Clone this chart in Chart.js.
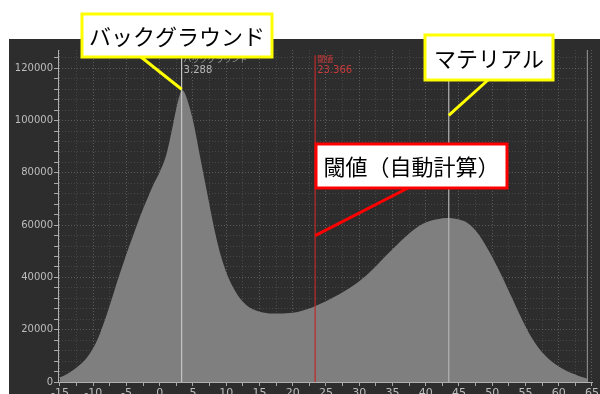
<!DOCTYPE html>
<html>
<head>
<meta charset="utf-8">
<script src="https://cdn.jsdelivr.net/npm/chart.js@4.4.1/dist/chart.umd.min.js"></script>
<style>
  html, body { margin: 0; padding: 0; background: #fff; }
  #wrap { width: 600px; height: 394px; }
</style>
</head>
<body>
<div id="wrap"><canvas id="histChart" width="600" height="394"></canvas></div>
<script>
// Histogram (bin centre -> count)
const binX = [-15, -14, -13, -12, -11, -10, -9, -8, -7, -6, -5, -4, -3, -2, -1, 0, 1, 2, 2.5, 3, 3.288, 3.6, 4, 5, 6, 7, 8, 9, 10,
  11, 12, 13, 14, 15, 16, 17, 18, 19, 20, 21, 22, 23, 24, 25, 26, 27, 28, 29, 30, 31, 32, 33, 34, 35, 36, 37, 38,
  39, 40, 41, 42, 43, 44, 45, 46, 47, 48, 49, 50, 51, 52, 53, 54, 55, 56, 57, 58, 59, 60, 61, 62, 63, 64, 64.3];
const binCount = [1800, 3000, 4600, 6600, 9200, 13000, 18500, 25500, 33500, 41500, 49000, 56000, 63000, 69300, 75300, 80300, 87000, 98500, 104800, 109800, 111600, 111200, 109000, 100000, 87000, 74000, 61000, 50000, 42000,
  36300, 32200, 29500, 27800, 26900, 26400, 26200, 26200, 26300, 26500, 27000, 27700, 28600, 29700, 30900, 32200, 33600, 35100, 36700, 38550, 40650, 43050, 45650, 48300, 50800, 53300, 55700, 57900,
  59700, 61000, 61900, 62400, 62700, 62600, 62200, 61300, 59300, 56300, 52300, 47800, 42800, 37500, 32000, 26500, 21200, 16600, 12900, 10000, 7700, 5900, 4500, 3300, 2300, 1500, 1200];

// markers
const bgPeak = 3.288;
const threshold = 23.366;
const materialPeak = 43.46;
const rangeMax = 64.3;

// axis ranges / ticks
const xMin = -15.3, xMax = 65.1;
const yMin = 0, yMax = 127000;
const xMinorStep = 2.5, xLabelStep = 5;
const yMinorStep = 4000, yLabelStep = 20000;

// callouts: text, anchor point on the data (x, y)
const calloutTexts = ['バックグラウンド', 'マテリアル', '閾値（自動計算）'];
const calloutTargetX = [bgPeak, materialPeak, threshold];
const calloutTargetY = [112000, 102000, 56000];

const vline = (x, top) => [{ x: x, y: yMin }, { x: x, y: top }];

const bgPlugin = {
  id: 'bgPanel',
  beforeDraw(chart) {
    const c = chart.ctx;
    c.save();
    c.fillStyle = '#ffffff';
    c.fillRect(0, 0, chart.width, chart.height);
    c.fillStyle = '#2d2d2d';
    c.fillRect(9, 39, chart.width - 9, chart.height - 39);
    c.restore();
  }
};

const calloutPlugin = {
  id: 'callouts',
  afterDraw(chart) {
    const c = chart.ctx;
    const xs = chart.scales.x, ys = chart.scales.y;
    c.save();

    // small marker labels
    c.textAlign = 'left';
    c.textBaseline = 'middle';
    c.fillStyle = '#9a9a9a';
    c.font = '8px "Noto Sans CJK JP"';
    c.fillText('バックグラウンド', xs.getPixelForValue(bgPeak) + 2, 59);
    c.fillStyle = '#b8b8b8';
    c.font = '10px "DejaVu Sans"';
    c.fillText(bgPeak.toFixed(3), xs.getPixelForValue(bgPeak) + 2, 70);
    c.fillStyle = '#c83a3a';
    c.font = '8px "Noto Sans CJK JP"';
    c.fillText('閾値', xs.getPixelForValue(threshold) + 2, 59);
    c.font = '10px "DejaVu Sans"';
    c.fillText(threshold.toFixed(3), xs.getPixelForValue(threshold) + 2, 70);

    // callout boxes
    const boxes = [
      { x: 82, y: 14, w: 190, h: 43, color: '#ffff00', from: [141, 57] },
      { x: 425, y: 35, w: 128, h: 45, color: '#ffff00', from: [488, 80] },
      { x: 316, y: 144, w: 191, h: 44, color: '#ff0000', from: [408, 188] }
    ];
    boxes.forEach((b, i) => {
      // leader line
      c.strokeStyle = b.color;
      c.lineWidth = 3;
      c.beginPath();
      c.moveTo(b.from[0], b.from[1]);
      c.lineTo(xs.getPixelForValue(calloutTargetX[i]), ys.getPixelForValue(calloutTargetY[i]));
      c.stroke();
      // box
      c.fillStyle = '#ffffff';
      c.fillRect(b.x, b.y, b.w, b.h);
      c.strokeRect(b.x, b.y, b.w, b.h);
      c.fillStyle = '#000000';
      c.font = '22px "Noto Sans CJK JP"';
      c.textAlign = 'center';
      c.textBaseline = 'middle';
      c.fillText(calloutTexts[i], b.x + b.w / 2, b.y + b.h / 2 + 1);
    });
    c.restore();
  }
};

const ctx = document.getElementById('histChart').getContext('2d');
new Chart(ctx, {
  type: 'line',
  data: {
    datasets: [
      {
        label: 'histogram',
        data: binX.map((x, i) => ({ x: x, y: binCount[i] })),
        backgroundColor: '#7f7f7f',
        borderWidth: 0,
        pointRadius: 0,
        fill: 'origin',
        cubicInterpolationMode: 'monotone',
        order: 5
      },
      {
        label: 'background',
        data: vline(bgPeak, yMax),
        borderColor: '#c4c4c4',
        borderWidth: 1.2,
        pointRadius: 0,
        order: 1
      },
      {
        label: 'threshold',
        data: vline(threshold, 125000),
        borderColor: '#c02828',
        borderWidth: 1.2,
        pointRadius: 0,
        order: 1
      },
      {
        label: 'material',
        data: vline(materialPeak, yMax),
        borderColor: '#b4b4b4',
        borderWidth: 1.2,
        pointRadius: 0,
        order: 1
      },
      {
        label: 'range',
        data: vline(rangeMax, yMax),
        borderColor: '#9a9a9a',
        borderWidth: 1,
        pointRadius: 0,
        order: 1
      }
    ]
  },
  options: {
    responsive: false,
    animation: false,
    layout: { padding: { top: 50, right: 6, bottom: 0, left: 0 } },
    plugins: {
      legend: { display: false },
      tooltip: { enabled: false }
    },
    scales: {
      x: {
        type: 'linear',
        min: xMin,
        max: xMax,
        afterBuildTicks: (scale) => {
          const t = [];
          for (let v = -15; v <= 65; v += xMinorStep) t.push({ value: v });
          scale.ticks = t;
        },
        afterFit: (scale) => { scale.height = 12; },
        grid: {
          color: (c) => (c.tick && c.tick.value % xLabelStep === 0) ? 'rgba(255,255,255,0.22)' : 'rgba(255,255,255,0.12)',
          tickColor: '#a8a8a8',
          tickLength: 4,
          drawTicks: true
        },
        border: { display: true, color: '#b0b0b0', width: 1, dash: [1, 2] },
        ticks: {
          autoSkip: false,
          maxRotation: 0,
          padding: 1,
          color: '#bdbdbd',
          font: { family: 'DejaVu Sans', size: 11 },
          callback: (v) => (v % xLabelStep === 0) ? String(v) : ''
        }
      },
      y: {
        type: 'linear',
        min: yMin,
        max: yMax,
        afterBuildTicks: (scale) => {
          const t = [];
          for (let v = 0; v <= 124000; v += yMinorStep) t.push({ value: v });
          scale.ticks = t;
        },
        afterFit: (scale) => { scale.width = 58; },
        grid: {
          color: (c) => (c.tick && c.tick.value % yLabelStep === 0) ? 'rgba(255,255,255,0.22)' : 'rgba(255,255,255,0.12)',
          tickColor: '#a8a8a8',
          tickLength: 4,
          drawTicks: true
        },
        border: { display: true, color: '#b0b0b0', width: 1, dash: [1, 2] },
        ticks: {
          autoSkip: false,
          padding: 1,
          color: '#bdbdbd',
          font: { family: 'DejaVu Sans', size: 10 },
          callback: (v) => (v % yLabelStep === 0) ? String(v) : ''
        }
      }
    }
  },
  plugins: [bgPlugin, calloutPlugin]
});
</script>
</body>
</html>
